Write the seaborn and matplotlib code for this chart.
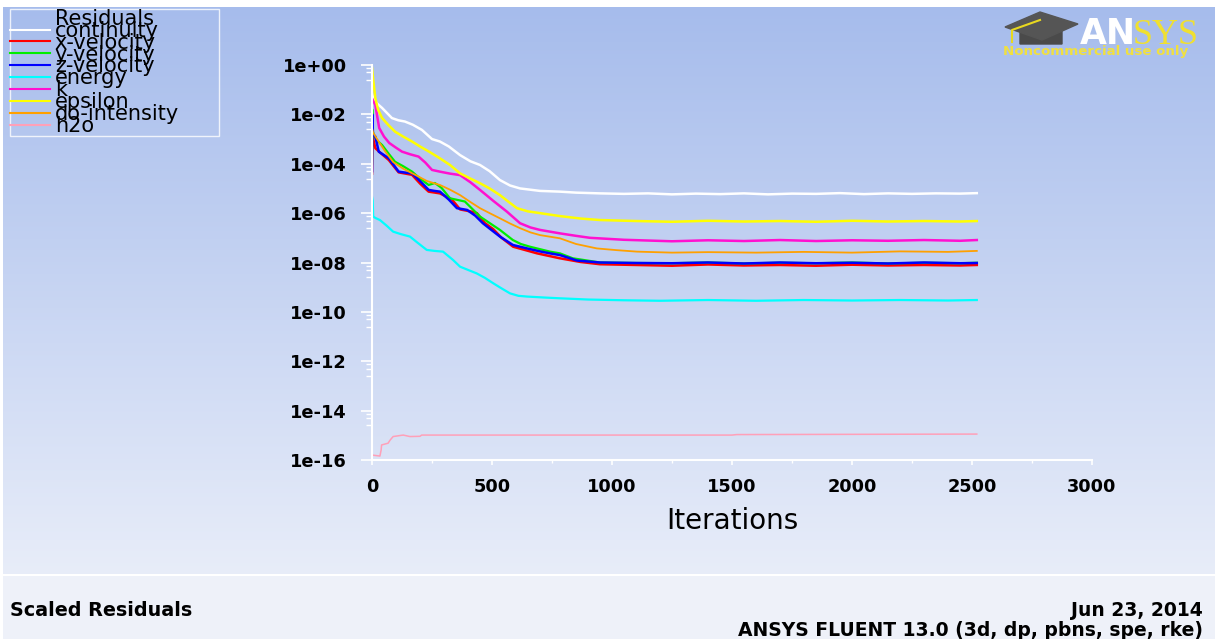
import numpy as np
import pandas as pd
import matplotlib
matplotlib.use("Agg")
import matplotlib.pyplot as plt
import seaborn as sns
from matplotlib.lines import Line2D
from matplotlib.patches import Polygon

# residual histories: (iteration, log10 residual)
continuity = [(0, -1.15), (5, -1.35), (20, -1.55), (42, -1.74), (83, -2.15), (110, -2.24), (137, -2.29),
              (170, -2.42), (208, -2.63), (250, -3.0), (283, -3.1), (320, -3.3), (367, -3.65), (410, -3.9),
              (450, -4.05), (490, -4.3), (533, -4.66), (575, -4.88), (617, -5.0), (700, -5.1), (783, -5.13),
              (850, -5.17), (950, -5.2), (1050, -5.22), (1150, -5.2), (1250, -5.24), (1350, -5.21),
              (1450, -5.23), (1550, -5.2), (1650, -5.24), (1750, -5.21), (1850, -5.22), (1950, -5.19),
              (2050, -5.23), (2150, -5.2), (2250, -5.22), (2350, -5.2), (2450, -5.21), (2520, -5.19)]
x_velocity = [(0, -4.4), (2, -2.7), (5, -3.0), (14, -3.37), (40, -3.6), (70, -3.85), (111, -4.35), (140, -4.4),
              (167, -4.45), (200, -4.8), (236, -5.13), (283, -5.2), (333, -5.45), (367, -5.85), (410, -5.93),
              (437, -6.0), (470, -6.4), (505, -6.65), (540, -7.0), (588, -7.36), (640, -7.5), (688, -7.63),
              (783, -7.83), (870, -7.98), (950, -8.07), (1100, -8.1), (1250, -8.13), (1400, -8.08),
              (1550, -8.12), (1700, -8.1), (1850, -8.13), (2000, -8.09), (2150, -8.12), (2300, -8.1),
              (2450, -8.12), (2520, -8.1)]
y_velocity = [(0, -4.0), (1, -1.8), (4, -2.7), (7, -2.84), (20, -3.05), (42, -3.24), (70, -3.6), (96, -3.92),
              (130, -4.1), (167, -4.32), (200, -4.6), (236, -4.86), (262, -4.78), (290, -4.98), (325, -5.4),
              (387, -5.53), (450, -6.14), (533, -6.68), (587, -7.09), (620, -7.25), (658, -7.36), (742, -7.56),
              (783, -7.63), (837, -7.83), (950, -8.0), (1100, -8.02), (1250, -8.03), (1400, -8.0),
              (1550, -8.04), (1700, -8.01), (1850, -8.03), (2000, -8.0), (2150, -8.04), (2300, -8.01),
              (2450, -8.03), (2520, -8.01)]
z_velocity = [(0, -4.3), (1, -2.0), (4, -2.8), (14, -2.9), (28, -3.51), (50, -3.65), (70, -3.78), (111, -4.32),
              (140, -4.36), (167, -4.39), (200, -4.7), (236, -5.06), (260, -5.1), (283, -5.13), (320, -5.45),
              (354, -5.8), (396, -5.87), (430, -6.1), (462, -6.41), (500, -6.7), (533, -6.95), (587, -7.29),
              (646, -7.43), (700, -7.55), (742, -7.63), (783, -7.7), (854, -7.92), (950, -8.0), (1100, -8.02),
              (1250, -8.03), (1400, -8.0), (1550, -8.04), (1700, -8.0), (1850, -8.03), (2000, -8.01),
              (2150, -8.04), (2300, -8.0), (2450, -8.03), (2520, -8.02)]
energy = [(0, -5.33), (3, -5.5), (5, -6.14), (15, -6.2), (33, -6.28), (60, -6.5), (88, -6.75), (120, -6.85),
          (158, -6.95), (190, -7.2), (228, -7.49), (260, -7.53), (296, -7.56), (338, -7.9), (367, -8.17),
          (400, -8.3), (436, -8.44), (470, -8.62), (505, -8.84), (540, -9.05), (575, -9.25), (610, -9.35),
          (646, -9.38), (720, -9.42), (783, -9.45), (900, -9.5), (1050, -9.53), (1200, -9.55), (1400, -9.52),
          (1600, -9.55), (1800, -9.52), (2000, -9.54), (2200, -9.52), (2400, -9.54), (2520, -9.52)]
k = [(0, -1.35), (14, -1.62), (22, -2.1), (30, -2.55), (50, -2.9), (72, -3.16), (100, -3.35), (125, -3.51),
     (160, -3.62), (194, -3.71), (222, -3.95), (250, -4.25), (283, -4.32), (325, -4.4), (367, -4.46),
     (410, -4.75), (450, -5.06), (505, -5.5), (562, -5.94), (617, -6.41), (660, -6.58), (700, -6.68),
     (783, -6.82), (850, -6.92), (908, -7.0), (1050, -7.08), (1250, -7.14), (1400, -7.1), (1550, -7.13),
     (1700, -7.09), (1850, -7.13), (2000, -7.1), (2150, -7.12), (2300, -7.09), (2450, -7.12), (2520, -7.09)]
epsilon = [(0, -0.12), (5, -0.6), (14, -1.35), (25, -1.8), (42, -2.15), (70, -2.45), (96, -2.7), (130, -2.9),
           (167, -3.1), (200, -3.3), (236, -3.5), (283, -3.78), (325, -4.05), (367, -4.39), (410, -4.6),
           (450, -4.79), (490, -5.0), (533, -5.27), (570, -5.55), (604, -5.8), (650, -5.93), (700, -6.0),
           (783, -6.12), (870, -6.22), (950, -6.28), (1100, -6.32), (1250, -6.35), (1400, -6.31), (1550, -6.34),
           (1700, -6.32), (1850, -6.35), (2000, -6.31), (2150, -6.34), (2300, -6.32), (2450, -6.34), (2520, -6.32)]
do_intensity = [(0, -2.55), (5, -2.75), (28, -3.1), (55, -3.5), (88, -3.93), (130, -4.2), (180, -4.45),
                (229, -4.7), (283, -4.86), (325, -5.05), (367, -5.27), (410, -5.55), (450, -5.8), (490, -6.0),
                (533, -6.21), (575, -6.42), (617, -6.61), (660, -6.78), (700, -6.89), (783, -7.02), (850, -7.25),
                (937, -7.43), (1020, -7.5), (1104, -7.56), (1250, -7.6), (1400, -7.58), (1600, -7.6),
                (1800, -7.57), (2000, -7.6), (2200, -7.55), (2400, -7.57), (2520, -7.53)]
h2o = [(0, -15.8), (33, -15.84), (38, -15.6), (40, -15.39), (67, -15.32), (75, -15.2), (88, -15.05),
       (130, -14.99), (158, -15.05), (200, -15.04), (207, -14.99), (1500, -14.99), (1520, -14.97), (2520, -14.95)]

names = ["continuity", "x-velocity", "y-velocity", "z-velocity", "energy", "k", "epsilon", "do-intensity", "h2o"]
series = [continuity, x_velocity, y_velocity, z_velocity, energy, k, epsilon, do_intensity, h2o]
colors = ["#ffffff", "#ff0000", "#00ee00", "#0000ff", "#00ffff", "#ff10d0", "#ffff00", "#ffa000", "#ffa0b8"]
widths = [1.8, 1.8, 1.6, 1.8, 1.6, 1.8, 1.8, 1.3, 1.1]

ytick_exp = [0, -2, -4, -6, -8, -10, -12, -14, -16]
ytick_labels = ["1e+00", "1e-02", "1e-04", "1e-06", "1e-08", "1e-10", "1e-12", "1e-14", "1e-16"]
xticks = [0, 500, 1000, 1500, 2000, 2500, 3000]

rows = []
for nm, pts in zip(names, series):
    for it, lg in pts:
        rows.append((nm, it, 10.0 ** lg))
df = pd.DataFrame(rows, columns=["series", "iteration", "residual"])

plt.rcParams["font.family"] = ["DejaVu Sans"]
W, H = 1215, 639
fig = plt.figure(figsize=(W / 100, H / 100), dpi=100)

# background: light blue gradient with white margin and lower panel
top = np.array([166, 188, 236]) / 255
bot = np.array([232, 237, 249]) / 255
img = np.ones((H, W, 3))
t = np.linspace(0, 1, 575 - 7)[:, None]
img[7:575, 3:] = (top + (bot - top) * t)[:, None, :]
img[575:, 3:] = np.array([238, 241, 249]) / 255
img[574:576, 3:] = 1.0
bg = fig.add_axes([0, 0, 1, 1], zorder=-10)
bg.imshow(img, extent=[0, 1, 0, 1], aspect="auto", interpolation="nearest")
bg.set_axis_off()

ax = fig.add_axes([372 / W, 1 - 460 / H, 720 / W, 395 / H])
ax.patch.set_alpha(0)
for nm, c, lw in zip(names, colors, widths):
    sub = df[df["series"] == nm]
    sns.lineplot(data=sub, x="iteration", y="residual", color=c, linewidth=lw,
                 estimator=None, sort=False, ax=ax, legend=False)

ax.set_yscale("log")
ax.set_ylim(1e-16, 1)
ax.set_xlim(0, 3000)
ax.set_yticks([10.0 ** e for e in ytick_exp])
ax.set_yticklabels(ytick_labels)
ax.set_yticks([m * 10.0 ** e for e in ytick_exp[:-1] for m in (0.75, 0.5, 0.25)], minor=True)
ax.set_xticks(xticks)
ax.set_xticklabels([str(v) for v in xticks])
ax.set_xticks([250, 750, 1250, 1750, 2250, 2750], minor=True)
ax.set_ylabel("")
ax.set_xlabel("Iterations", fontsize=20, labelpad=8)
for s in ["top", "right"]:
    ax.spines[s].set_visible(False)
for s in ["left", "bottom"]:
    ax.spines[s].set_color("white")
    ax.spines[s].set_linewidth(1.5)
ax.tick_params(axis="y", which="major", length=8, width=1.2, color="white", pad=10, labelsize=12.8)
ax.tick_params(axis="y", which="minor", length=4.3, width=1.0, color="white")
ax.tick_params(axis="x", which="major", length=3.6, width=1.2, color="white", pad=9, labelsize=12.8)
ax.tick_params(axis="x", which="minor", length=2.2, width=1.0, color="white")
for lab in ax.get_xticklabels() + ax.get_yticklabels():
    lab.set_fontweight("bold")

# legend box at upper left
handles = [Line2D([], [], color="none")] + [Line2D([], [], color=c, lw=1.5) for c in colors]
labels = ["Residuals"] + names
fig.legend(handles, labels, loc="upper left",
           bbox_to_anchor=(10 / W, 1 - 9 / H, 209 / W, 0), mode="expand",
           frameon=True, fancybox=False, edgecolor="white", facecolor="none",
           fontsize=15, labelspacing=-0.39, handlelength=1.9, handletextpad=0.25,
           borderpad=0.0, borderaxespad=0)

# logo
cap = Polygon([[1005 / W, 1 - 27 / H], [1040 / W, 1 - 12 / H], [1078 / W, 1 - 24 / H], [1042 / W, 1 - 40 / H]],
              closed=True, transform=fig.transFigure, color="#555555")
cap2 = Polygon([[1020 / W, 1 - 32 / H], [1062 / W, 1 - 31 / H], [1062 / W, 1 - 44 / H], [1020 / W, 1 - 44 / H]],
               closed=True, transform=fig.transFigure, color="#4a4a4a")
fig.add_artist(cap2)
fig.add_artist(cap)
fig.add_artist(Line2D([1040 / W, 1012 / W, 1012 / W], [1 - 20 / H, 1 - 30 / H, 1 - 42 / H],
                      transform=fig.transFigure, color="#e8d820", lw=1.5))
fig.text(1080 / W, 1 - 44 / H, "AN", color="white", fontsize=25, fontweight="bold", va="baseline")
fig.text(1133 / W, 1 - 44 / H, "SYS", color="#f0e030", fontsize=26, family="Liberation Serif", va="baseline")
fig.text(1003 / W, 1 - 55 / H, "Noncommercial use only", color="#f0e040", fontsize=9.6, fontweight="bold",
         va="baseline")

# footer
fig.text(10 / W, 1 - 611 / H, "Scaled Residuals", fontsize=13.8, fontweight="bold", va="center")
fig.text(1203 / W, 1 - 611 / H, "Jun 23, 2014", fontsize=13.5, fontweight="bold", va="center", ha="right")
fig.text(1203 / W, 1 - 631 / H, "ANSYS FLUENT 13.0 (3d, dp, pbns, spe, rke)", fontsize=13.5, fontweight="bold",
         va="center", ha="right")

fig.savefig("out.png", dpi=100)
